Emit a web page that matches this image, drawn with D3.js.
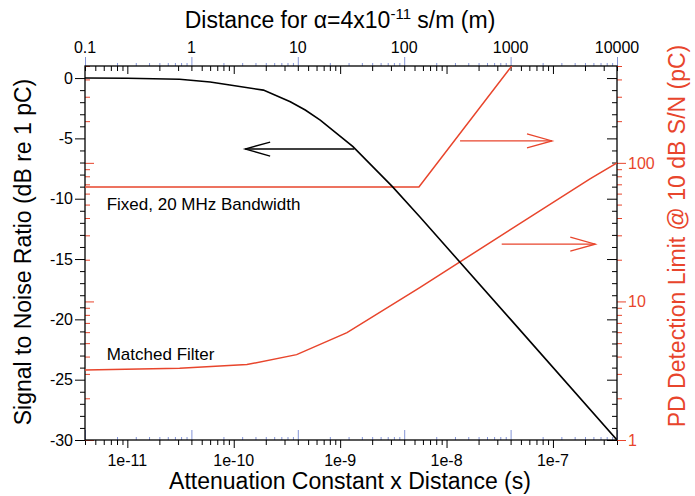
<!DOCTYPE html>
<html>
<head>
<meta charset="utf-8">
<script src="https://cdn.jsdelivr.net/npm/d3@7"></script>
<style>
    body { margin: 0; background: #fff; }
    text { font-family: "Liberation Sans", Arial, Helvetica, sans-serif; }
</style>
</head>
<body>
<div id="chart"></div>
<script>
// Signal to noise ratio (left axis, dB) vs attenuation x distance (s)
const snrAtt = [4e-12, 1e-11, 3.1e-11, 6e-11, 9.2e-11, 1.9e-10, 3.4e-10, 4.7e-10, 6.5e-10, 1.32e-9, 3.1e-9, 5.6e-9, 4e-8, 4e-7];
const snrDb = [0, -0.02, -0.1, -0.33, -0.58, -1.0, -1.96, -2.65, -3.48, -5.69, -9.0, -11.5, -20.0, -30];

// PD detection limit (right axis, pC), matched filter
const matchedAtt = [4e-12, 3.1e-11, 1.33e-10, 3.9e-10, 1.16e-9, 5.6e-9, 2.23e-7, 4e-7];
const matchedPc = [3.2, 3.3, 3.5, 4.13, 5.96, 12.6, 76.6, 100];

// PD detection limit (right axis, pC), fixed 20 MHz bandwidth
const fixedAtt = [4e-12, 5.5e-9, 4.1e-8];
const fixedPc = [67, 67, 500];

// Axis ticks
const bottomTicks = [1e-11, 1e-10, 1e-9, 1e-8, 1e-7];
const bottomLabels = ["1e-11", "1e-10", "1e-9", "1e-8", "1e-7"];
const topTicks = [0.1, 1, 10, 100, 1000, 10000];
const topLabels = ["0.1", "1", "10", "100", "1000", "10000"];
const leftTicks = [0, -5, -10, -15, -20, -25, -30];
const rightTicks = [1, 10, 100];
const rightLabels = ["1", "10", "100"];

// Annotation arrows [x0, x1, y] in data units (x1 = tip)
const snrArrow = [1.36e-9, 1.28e-10, -5.88];
const pcArrows = [[1.34e-8, 9.8e-8, 144], [3.3e-8, 2.5e-7, 25.9]];

const alpha = 4e-11; // s/m

const red = "#e8452c";
const blue = "#8494d6";

const W = 695, H = 496;
const margin = { top: 66, left: 85, bottom: 56, right: 78 };
const width = W - margin.left - margin.right;
const height = H - margin.top - margin.bottom;

let svg = d3.select("#chart").append("svg")
    .attr("width", W)
    .attr("height", H);

let g = svg.append("g")
    .attr("transform", `translate(${margin.left}, ${margin.top})`);

/* Scales */
let xScale = d3.scaleLog().domain([4e-12, 4e-7]).range([0, width]);
let dScale = d3.scaleLog().domain([4e-12 / alpha, 4e-7 / alpha]).range([0, width]);
let yScale = d3.scaleLinear().domain([-30, 1]).range([height, 0]);
let pScale = d3.scaleLog().domain([1, 500]).range([height, 0]);

let isMajor = v => Math.abs(Math.log10(v) - Math.round(Math.log10(v))) < 1e-6;

let xMinor = xScale.ticks().filter(v => !isMajor(v));
let dMinor = dScale.ticks().filter(v => !isMajor(v));
let pMinor = pScale.ticks().filter(v => !isMajor(v));
let yMinor = d3.range(-30, 1, 1).filter(v => v % 5 !== 0);

// Draw a tick-only axis (no domain line)
function ticks(axis, values, size, color, transform) {
    let a = g.append("g")
        .attr("transform", transform || null)
        .call(axis.tickValues(values).tickSize(size).tickFormat(""));
    a.select(".domain").remove();
    a.selectAll("line").attr("stroke", color).attr("stroke-width", 1);
    return a;
}

/* Bottom: black outside, blue inside */
ticks(d3.axisBottom(xScale), xMinor, 5, "#000", `translate(0, ${height})`);
ticks(d3.axisBottom(xScale), bottomTicks, 8, "#000", `translate(0, ${height})`);
ticks(d3.axisTop(dScale), dMinor, 3, blue, `translate(0, ${height})`);
ticks(d3.axisTop(dScale), topTicks, 10, blue, `translate(0, ${height})`);

/* Top: blue outside, black inside */
ticks(d3.axisTop(dScale), dMinor, 3, blue);
ticks(d3.axisTop(dScale), topTicks, 9, blue);
ticks(d3.axisBottom(xScale), xMinor, 5, "#000");
ticks(d3.axisBottom(xScale), bottomTicks, 8, "#000");

/* Left: black outside, red inside */
ticks(d3.axisLeft(yScale), yMinor, 5, "#000");
ticks(d3.axisLeft(yScale), leftTicks, 10, "#000");
ticks(d3.axisRight(pScale), pMinor, 5, red);
ticks(d3.axisRight(pScale), rightTicks, 9, red);

/* Right: red outside, black inside */
ticks(d3.axisRight(pScale), pMinor, 5, red, `translate(${width}, 0)`);
ticks(d3.axisRight(pScale), rightTicks, 9, red, `translate(${width}, 0)`);
ticks(d3.axisLeft(yScale), yMinor, 5, "#000", `translate(${width}, 0)`);
ticks(d3.axisLeft(yScale), leftTicks, 10, "#000", `translate(${width}, 0)`);

/* Frame */
g.append("rect")
    .attr("width", width)
    .attr("height", height)
    .attr("fill", "none")
    .attr("stroke", "#000")
    .attr("stroke-width", 1.3);

/* Tick labels */
g.selectAll(".blab").data(bottomTicks).enter().append("text")
    .attr("x", d => xScale(d))
    .attr("y", height + 26)
    .attr("text-anchor", "middle")
    .attr("font-size", 16)
    .text((d, i) => bottomLabels[i]);

g.selectAll(".tlab").data(topTicks).enter().append("text")
    .attr("x", d => dScale(d))
    .attr("y", -13)
    .attr("text-anchor", "middle")
    .attr("font-size", 16)
    .text((d, i) => topLabels[i]);

g.selectAll(".llab").data(leftTicks).enter().append("text")
    .attr("x", -12)
    .attr("y", d => yScale(d))
    .attr("dy", "0.36em")
    .attr("text-anchor", "end")
    .attr("font-size", 16)
    .text(d => d);

g.selectAll(".rlab").data(rightTicks).enter().append("text")
    .attr("x", width + 11)
    .attr("y", d => pScale(d))
    .attr("dy", "0.36em")
    .attr("fill", red)
    .attr("font-size", 16)
    .text((d, i) => rightLabels[i]);

/* Axis titles */
svg.append("text")
    .attr("x", 350)
    .attr("y", 489)
    .attr("text-anchor", "middle")
    .attr("font-size", 23)
    .text("Attenuation Constant x Distance (s)");

let topTitle = svg.append("text")
    .attr("x", 340)
    .attr("y", 28)
    .attr("text-anchor", "middle")
    .attr("font-size", 23);
topTitle.append("tspan").text("Distance for \u03b1=4x10");
topTitle.append("tspan").attr("dy", -9).attr("font-size", 15).text("-11");
topTitle.append("tspan").attr("dy", 9).text(" s/m (m)");

svg.append("text")
    .attr("transform", "translate(31, 252) rotate(-90)")
    .attr("text-anchor", "middle")
    .attr("font-size", 23)
    .text("Signal to Noise Ratio (dB re 1 pC)");

svg.append("text")
    .attr("transform", "translate(685, 236) rotate(-90)")
    .attr("text-anchor", "middle")
    .attr("font-size", 23)
    .attr("fill", red)
    .text("PD Detection Limit @ 10 dB S/N (pC)");

/* Curves */
g.append("defs").append("clipPath")
    .attr("id", "clip")
    .append("rect")
    .attr("width", width)
    .attr("height", height);

let main = g.append("g").attr("clip-path", "url(#clip)");

let snrLine = d3.line()
    .x(d => xScale(d[0]))
    .y(d => yScale(d[1]));
let pcLine = d3.line()
    .x(d => xScale(d[0]))
    .y(d => pScale(d[1]));

main.append("path")
    .datum(fixedAtt.map((a, i) => [a, fixedPc[i]]))
    .attr("d", pcLine)
    .attr("fill", "none")
    .attr("stroke", red)
    .attr("stroke-width", 1.5);

main.append("path")
    .datum(matchedAtt.map((a, i) => [a, matchedPc[i]]))
    .attr("d", pcLine)
    .attr("fill", "none")
    .attr("stroke", red)
    .attr("stroke-width", 1.5);

main.append("path")
    .datum(snrAtt.map((a, i) => [a, snrDb[i]]))
    .attr("d", snrLine)
    .attr("fill", "none")
    .attr("stroke", "#000")
    .attr("stroke-width", 1.6);

/* Arrows */
function arrow(x0, x1, y, color) {
    let dir = x1 > x0 ? 1 : -1;
    let a = main.append("g")
        .attr("fill", "none")
        .attr("stroke", color)
        .attr("stroke-width", 1.3);
    a.append("line").attr("x1", x0).attr("y1", y).attr("x2", x1).attr("y2", y);
    a.append("polyline")
        .attr("points", `${x1 - dir * 25},${y - 7} ${x1},${y} ${x1 - dir * 25},${y + 7}`);
}

arrow(xScale(snrArrow[0]), xScale(snrArrow[1]), yScale(snrArrow[2]), "#000");
pcArrows.forEach(d => arrow(xScale(d[0]), xScale(d[1]), pScale(d[2]), red));

/* Curve labels */
g.append("text")
    .attr("x", xScale(6.4e-12))
    .attr("y", yScale(-10.9))
    .attr("font-size", 17)
    .text("Fixed, 20 MHz Bandwidth");

g.append("text")
    .attr("x", xScale(6.4e-12))
    .attr("y", pScale(3.8))
    .attr("font-size", 17)
    .text("Matched Filter");
</script>
</body>
</html>
